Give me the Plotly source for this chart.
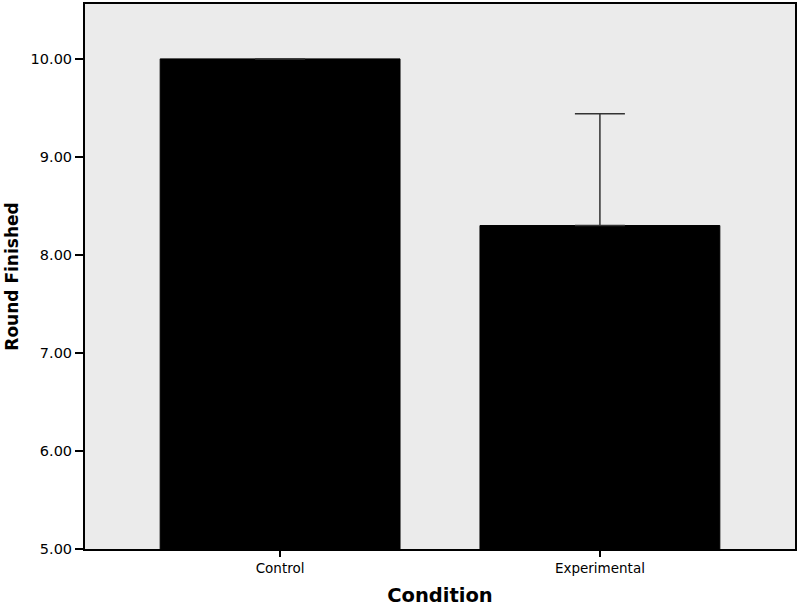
import plotly.graph_objects as go

conditions = ["Control", "Experimental"]
means = [10.0, 8.30]
error_plus = [0.0, 1.14]
y_ticks = [5, 6, 7, 8, 9, 10]
y_tick_labels = ["5.00", "6.00", "7.00", "8.00", "9.00", "10.00"]

fig = go.Figure()
fig.add_trace(go.Bar(
    x=conditions,
    y=means,
    base=0,
    width=0.75,
    marker=dict(color="black", line=dict(color="black", width=1)),
    error_y=dict(type="data", array=error_plus, arrayminus=[0, 0], symmetric=False,
                 color="#333333", thickness=1.5, width=25),
))

fig.update_layout(
    width=800, height=607,
    margin=dict(l=85, r=5, t=4, b=58, autoexpand=False),
    plot_bgcolor="#ebebeb",
    paper_bgcolor="white",
    showlegend=False,
    font=dict(family="DejaVu Sans", color="black", size=12),
)
fig.update_xaxes(
    range=[-0.61, 1.61], automargin=False,
    showline=True, linecolor="black", linewidth=2, mirror=True,
    ticks="outside", ticklen=6, tickwidth=2, tickcolor="black",
    showgrid=False,
    tickfont=dict(size=13.5),
    title=dict(text="<b>Condition</b>", font=dict(size=19.5), standoff=15),
)
fig.update_yaxes(
    range=[5, 10.56], automargin=False,
    tickvals=y_ticks, ticktext=y_tick_labels,
    showline=True, linecolor="black", linewidth=2, mirror=True,
    ticks="outside", ticklen=8, tickwidth=2, tickcolor="black",
    showgrid=False, zeroline=False,
    tickfont=dict(size=14.5),
    title=dict(text="<b>Round Finished</b>", font=dict(size=17), standoff=8),
)

fig.write_html(
    "out.html",
    config={"displayModeBar": False},
    post_script="document.body.style.margin='0';document.body.style.overflow='hidden';",
)
